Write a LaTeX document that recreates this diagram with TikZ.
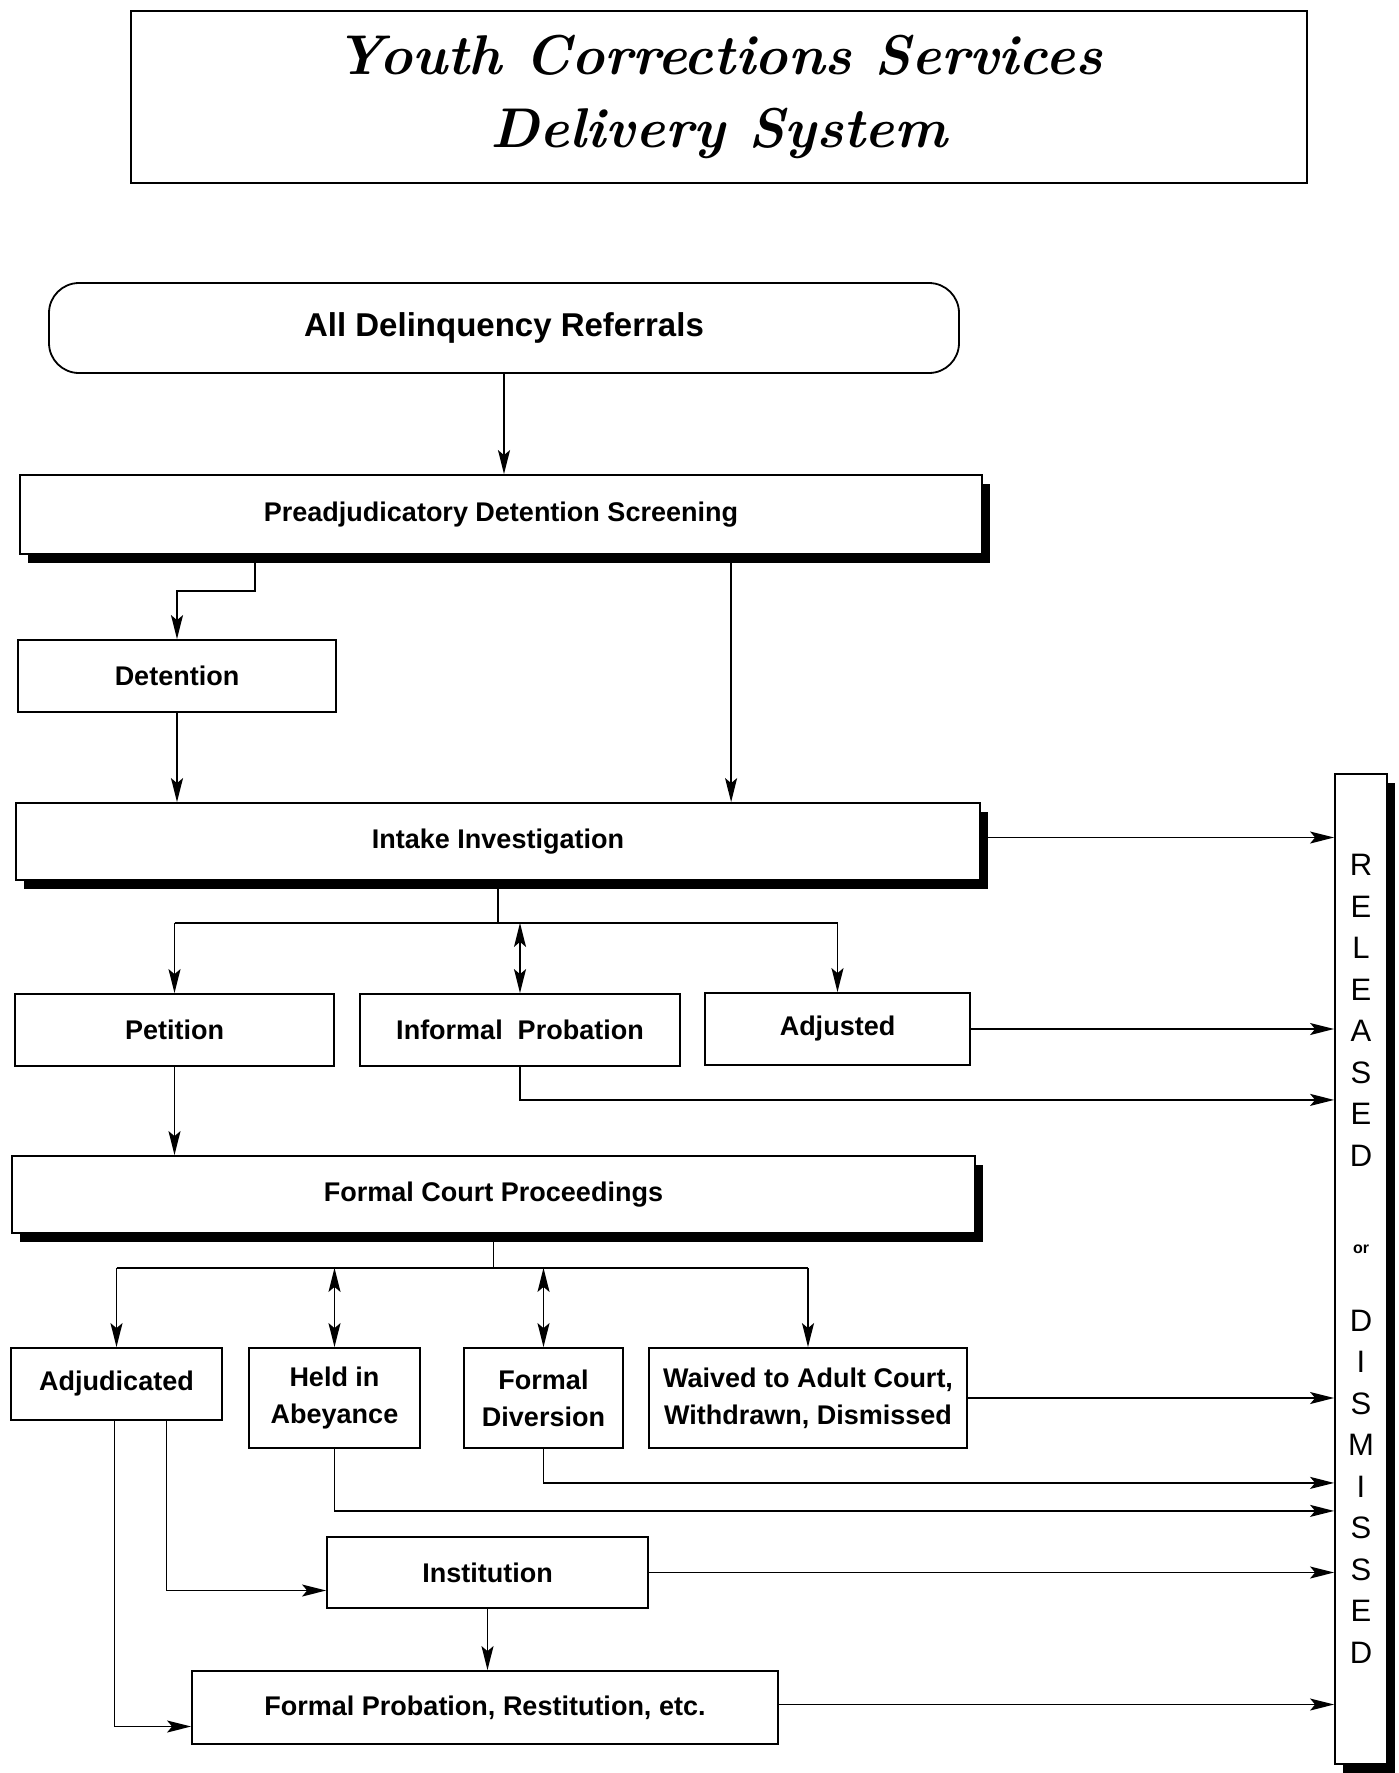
\documentclass[tikz,border=0pt]{standalone}
\usepackage{fontspec}
\newfontfamily\labfont{Liberation Sans}
\usetikzlibrary{arrows.meta,shadows}
\newcommand\ttlfont{\rmfamily\bfseries\itshape\fontsize{56}{73}\selectfont}
\begin{document}
\begin{tikzpicture}[x=1pt,y=-1pt,
  ln/.style={line width=1.6pt},
  box/.style={draw, line width=1.8pt, fill=white, rectangle, inner sep=0pt, align=center,
    font=\labfont\bfseries\fontsize{27}{37}\selectfont},
  shbox/.style={box, general shadow={fill=black, shadow xshift=8pt, shadow yshift=-9pt}},
  arr/.style={line width=1.6pt, -{Stealth[length=24pt,width=12pt,inset=5pt]}},
  darr/.style={line width=1.6pt, {Stealth[length=24pt,width=12pt,inset=5pt]}-{Stealth[length=24pt,width=12pt,inset=5pt]}}]
\fill[white] (0,0) rectangle (1399,1773);
\useasboundingbox (0,0) rectangle (1399,1773);

% title
\node[draw, line width=1.5pt, minimum width=1176pt, minimum height=172pt, align=center, inner sep=0pt, font=\ttlfont] (title) at (719,97) {Youth Corrections Services\\Delivery System};

% boxes
\node[box, rounded corners=30pt, minimum width=910pt, minimum height=90pt, font=\labfont\bfseries\fontsize{33}{40}\selectfont] (adr) at (504,328) {All Delinquency Referrals};
\node[shbox, minimum width=962pt, minimum height=79pt] (pre) at (501,514.5) {Preadjudicatory Detention Screening};
\node[box, minimum width=318pt, minimum height=72pt] (det) at (177,676) {Detention};
\node[shbox, minimum width=964pt, minimum height=77pt] (intake) at (498,841.5) {Intake Investigation};
\node[box, minimum width=319pt, minimum height=72pt] (pet) at (174.5,1030) {Petition};
\node[box, minimum width=320pt, minimum height=72pt] (inf) at (520,1030) {Informal\ \ Probation};
\node[box, minimum width=265pt, minimum height=72pt] (adj) at (837.5,1029) {Adjusted};
\node[shbox, minimum width=963pt, minimum height=77pt] (fcp) at (493.5,1194.5) {Formal Court Proceedings};
\node[box, minimum width=211pt, minimum height=72pt] (adjud) at (116.5,1384) {Adjudicated};
\node[box, minimum width=171pt, minimum height=100pt] (held) at (334.5,1398) {Held in\\Abeyance};
\node[box, minimum width=159pt, minimum height=100pt] (fdiv) at (543.5,1398) {Formal\\Diversion};
\node[box, minimum width=318pt, minimum height=100pt] (waived) at (808,1398) {Waived to Adult Court,\\Withdrawn, Dismissed};
\node[box, minimum width=321pt, minimum height=71pt] (inst) at (487.5,1572.5) {Institution};
\node[box, minimum width=586pt, minimum height=73pt] (fprob) at (485,1707.5) {Formal Probation, Restitution, etc.};
\node[shbox, minimum width=52pt, minimum height=990pt] (rel) at (1361,1269) {};
\node[align=center, inner sep=0pt, font=\labfont\fontsize{31}{41.5}\selectfont] (reltxt) at (1361,1259)
  {R\\E\\L\\E\\A\\S\\E\\D\\[46pt]{\fontsize{16}{18}\selectfont\bfseries or}\\[36pt]D\\I\\S\\M\\I\\S\\S\\E\\D};

% connectors
\draw[arr] (adr.south) -- (adr.south |- pre.north);
\coordinate (p1) at ([xshift=236pt]pre.south west);
\draw[arr] (p1) -- ++(0,36) -| (det.north);
\coordinate (p2) at ([xshift=712pt]pre.south west);
\draw[arr] (p2) -- (p2 |- intake.north);
\draw[arr] (det.south) -- (det.south |- intake.north);
\coordinate (ie) at ([yshift=4pt]intake.east);
\draw[arr] (ie) -- (ie -| rel.west);

\coordinate (ib) at ([yshift=-42pt]intake.south);
\draw[ln] (intake.south) -- (ib);
\draw[ln] (ib -| pet.north) -- (ib -| adj.north);
\draw[arr] (ib -| pet.north) -- (pet.north);
\draw[darr] (ib -| inf.north) -- (inf.north);
\draw[arr] (ib -| adj.north) -- (adj.north);

\draw[arr] (adj.east) -- (adj.east -| rel.west);
\coordinate (ifb) at ([yshift=-33pt]inf.south);
\draw[arr] (inf.south) -- (ifb) -- (ifb -| rel.west);
\draw[arr] (pet.south) -- (pet.south |- fcp.north);

\coordinate (fb) at ([yshift=-34pt]fcp.south);
\draw[ln] (fcp.south) -- (fb);
\draw[ln] (fb -| adjud.north) -- (fb -| waived.north);
\draw[arr] (fb -| adjud.north) -- (adjud.north);
\draw[darr] (fb -| held.north) -- (held.north);
\draw[darr] (fb -| fdiv.north) -- (fdiv.north);
\draw[arr] (fb -| waived.north) -- (waived.north);

\draw[arr] (waived.east) -- (waived.east -| rel.west);
\coordinate (fdb) at ([yshift=-34pt]fdiv.south);
\draw[arr] (fdiv.south) -- (fdb) -- (fdb -| rel.west);
\coordinate (hb) at ([yshift=-62pt]held.south);
\draw[arr] (held.south) -- (hb) -- (hb -| rel.west);

\coordinate (a1) at ([xshift=-2pt]adjud.south);
\draw[arr] (a1) |- ([yshift=-19pt]fprob.west);
\coordinate (a2) at ([xshift=50pt]adjud.south);
\draw[arr] (a2) |- ([yshift=-18pt]inst.west);
\draw[arr] (inst.east) -- (inst.east -| rel.west);
\draw[arr] (inst.south) -- (inst.south |- fprob.north);
\coordinate (fe) at ([yshift=3pt]fprob.east);
\draw[arr] (fe) -- (fe -| rel.west);
\end{tikzpicture}
\end{document}
